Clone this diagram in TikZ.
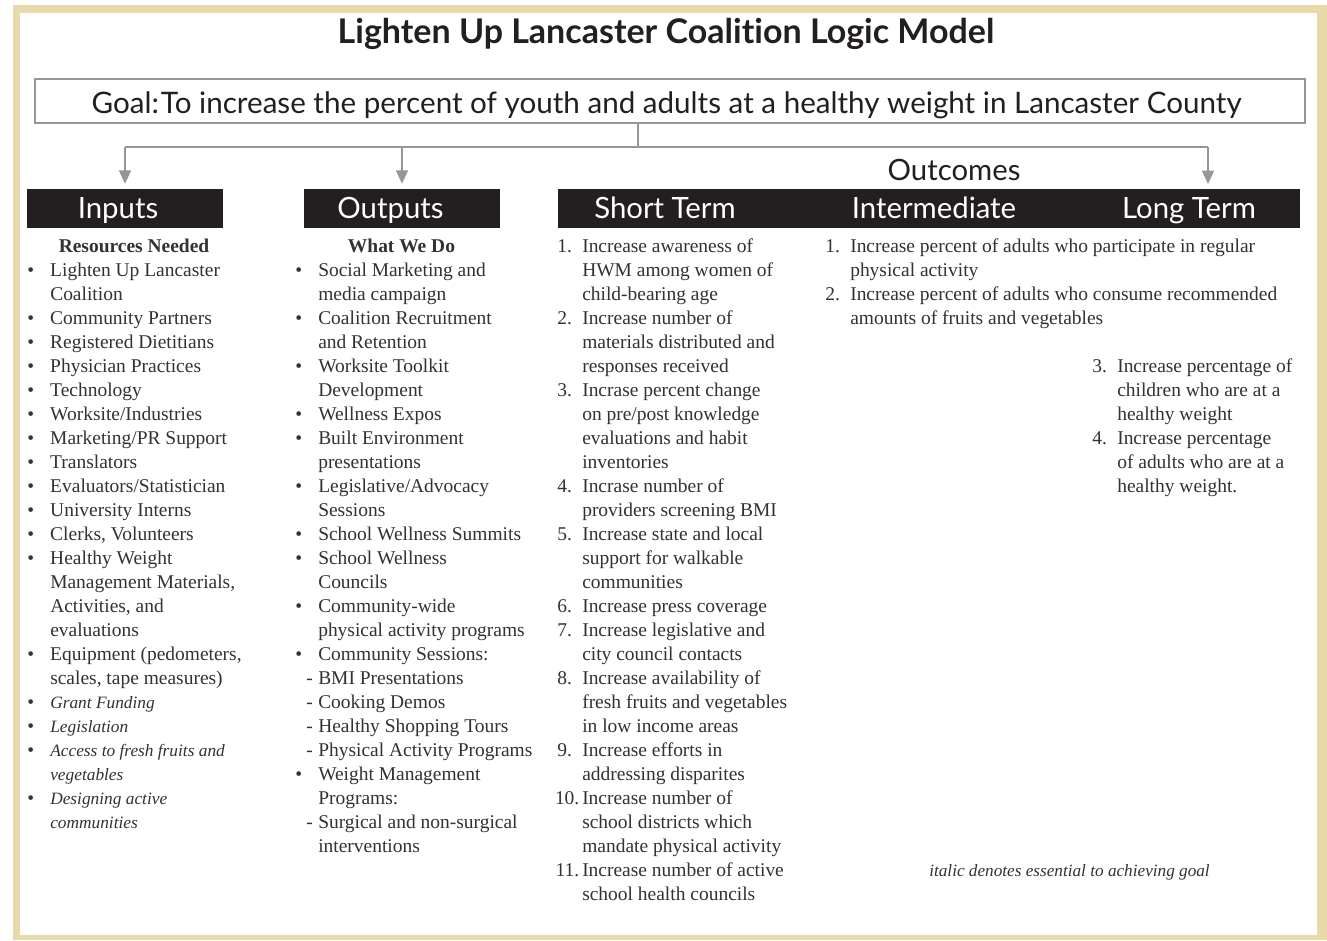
\documentclass[tikz,border=0pt]{standalone}
\usepackage{fontspec}
\setmainfont{Liberation Serif}
\newfontfamily\hfont[Ligatures=NoCommon]{Lato}
\usetikzlibrary{arrows.meta}
\definecolor{tanbd}{RGB}{232,217,170}
\definecolor{txt}{RGB}{50,50,50}
\definecolor{barblack}{RGB}{35,31,32}
\definecolor{lgray}{RGB}{150,150,150}
\newcommand\mybul{\llap{\textbullet\hspace{12pt}}}
\newcommand\mydash{\llap{-\hspace{4pt}}}
\newcommand\mynum[1]{\llap{\makebox[18.75pt][l]{#1}}}
\newcommand\mynumw[1]{\llap{#1\hspace{2.2pt}}}
\newcommand\myit[1]{{\fontsize{13}{18}\selectfont\itshape #1}}
\begin{document}
\begin{tikzpicture}[x=0.75pt,y=-0.75pt,
  body/.style={font=\fontsize{14.6}{18}\selectfont, text=txt, inner sep=0pt, anchor=base west},
  hbar/.style={fill=barblack, inner sep=0pt, minimum height=29.25pt},
  htxt/.style={font=\hfont\fontsize{22}{24}\selectfont, text=white, anchor=base, inner sep=0pt},
  gline/.style={draw=lgray, line width=1.1pt},
  garrow/.style={gline, -{Triangle[width=9pt,length=10pt]}, shorten >=3.75pt}]
\useasboundingbox (0,0) rectangle (1327,940);
\fill[white] (0,0) rectangle (1327,940);
\fill[tanbd] (13,5) rectangle (1327,940);
\fill[white] (20,13) rectangle (1317,935);

% title
\node[font=\hfont\bfseries\fontsize{25.5}{30}\selectfont, text=barblack, anchor=base, inner sep=0pt] (title) at (666,43.5) {Lighten Up Lancaster Coalition Logic Model};

% goal
\node[draw=lgray, line width=0.9pt, minimum width=952.5pt, minimum height=33pt, inner sep=0pt] (goal) at (670,101) {};
\node[font=\hfont\fontsize{22.2}{26}\selectfont, text=barblack, anchor=base, inner sep=0pt] (goaltxt) at (666.5,113) {Goal:\kern1.5pt To increase the percent of youth and adults at a healthy weight in Lancaster County};

% header bars
\node[hbar, minimum width=147pt] (inputs) at (125,208.5) {};
\node[hbar, minimum width=147pt] (outputs) at (402,208.5) {};
\node[hbar, minimum width=556.5pt] (outc) at (929,208.5) {};
\node[htxt] (inlab) at (118,218.5) {Inputs};
\node[htxt] (outlab) at (390.5,218.5) {Outputs};
\node[htxt] (stlab) at (665,218.5) {Short Term};
\node[htxt] (imlab) at (934,218.5) {Intermediate};
\node[htxt] (ltlab) at (1189,218.5) {Long Term};
\node[font=\hfont\fontsize{22}{26}\selectfont, text=barblack, anchor=base, inner sep=0pt] (outcomes) at (954,180.5) {Outcomes};

% connectors
\coordinate (j) at (638,147);
\coordinate (ltx) at (1208,189);
\draw[gline] (goal.south -| j) -- (j);
\draw[gline] (inputs.north |- j) -- (ltx |- j);
\draw[garrow] (inputs.north |- j) -- (inputs.north);
\draw[garrow] (outputs.north |- j) -- (outputs.north);
\draw[garrow] (ltx |- j) -- (ltx);

% inputs column
\node[body, font=\fontsize{14.6}{18}\selectfont\bfseries, anchor=base] (inhead) at (134,252.5) {Resources Needed};
\foreach \t [count=\k] in {
  {\mybul Lighten Up Lancaster},{Coalition},{\mybul Community Partners},
  {\mybul Registered Dietitians},{\mybul Physician Practices},{\mybul Technology},
  {\mybul Worksite/Industries},{\mybul Marketing/PR Support},{\mybul Translators},
  {\mybul Evaluators/Statistician},{\mybul University Interns},{\mybul Clerks, Volunteers},
  {\mybul Healthy Weight},{Management Materials,},{Activities, and},{evaluations},
  {\mybul Equipment (pedometers,},{scales, tape measures)},
  {\mybul\myit{Grant Funding}},{\mybul\myit{Legislation}},
  {\mybul\myit{Access to fresh fruits and}},{\myit{vegetables}},
  {\mybul\myit{Designing active}},{\myit{communities}}}
  \node[body] (in\k) at (50,{252.5+24*\k}) {\t};

% outputs column
\node[body, font=\fontsize{14.6}{18}\selectfont\bfseries, anchor=base] (outhead) at (401.5,252.5) {What We Do};
\foreach \t [count=\k] in {
  {\mybul Social Marketing and},{media campaign},{\mybul Coalition Recruitment},
  {and Retention},{\mybul Worksite Toolkit},{Development},{\mybul Wellness Expos},
  {\mybul Built Environment},{presentations},{\mybul Legislative/Advocacy},{Sessions},
  {\mybul School Wellness Summits},{\mybul School Wellness},{Councils},
  {\mybul Community-wide},{physical activity programs},{\mybul Community Sessions:},
  {\mydash BMI Presentations},{\mydash Cooking Demos},{\mydash Healthy Shopping Tours},
  {\mydash Physical Activity Programs},{\mybul Weight Management},{Programs:},
  {\mydash Surgical and non-surgical},{interventions}}
  \node[body] (out\k) at (318,{252.5+24*\k}) {\t};

% short term column
\foreach \t [count=\k from 0] in {
  {\mynum{1.}Increase awareness of},{HWM among women of},{child-bearing age},
  {\mynum{2.}Increase number of},{materials distributed and},{responses received},
  {\mynum{3.}Incrase percent change},{on pre/post knowledge},{evaluations and habit},{inventories},
  {\mynum{4.}Incrase number of},{providers screening BMI},
  {\mynum{5.}Increase state and local},{support for walkable},{communities},
  {\mynum{6.}Increase press coverage},
  {\mynum{7.}Increase legislative and},{city council contacts},
  {\mynum{8.}Increase availability of},{fresh fruits and vegetables},{in low income areas},
  {\mynum{9.}Increase efforts in},{addressing disparites},
  {\mynumw{10.}Increase number of},{school districts which},{mandate physical activity},
  {\mynumw{11.}Increase number of active},{school health councils}}
  \node[body] (st\k) at (582,{252.5+24*\k}) {\t};

% intermediate column
\foreach \t [count=\k from 0] in {
  {\mynum{1.}Increase percent of adults who participate in regular},{physical activity},
  {\mynum{2.}Increase percent of adults who consume recommended},{amounts of fruits and vegetables}}
  \node[body] (im\k) at (850,{252.5+24*\k}) {\t};

% long term column
\foreach \t [count=\k from 5] in {
  {\mynum{3.}Increase percentage of},{children who are at a},{healthy weight},
  {\mynum{4.}Increase percentage},{of adults who are at a},{healthy weight.}}
  \node[body] (lt\k) at (1117,{252.5+24*\k}) {\t};

% footnote
\node[body, font=\fontsize{12.9}{18}\selectfont\itshape, anchor=base] (note) at (1069.5,876.5) {italic denotes essential to achieving goal};
\end{tikzpicture}
\end{document}
